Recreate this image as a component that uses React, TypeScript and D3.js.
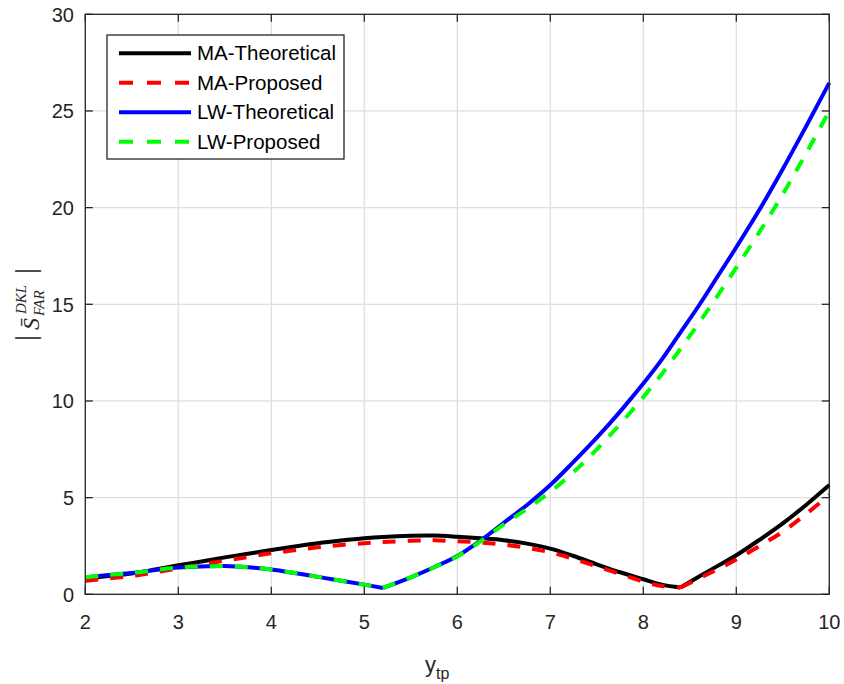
import React from "react";
import * as d3 from "d3";

const xs = [2, 2.25, 2.5, 2.75, 3, 3.25, 3.5, 3.75, 4, 4.25, 4.5, 4.75, 5, 5.2, 5.5, 5.75, 6, 6.25, 6.5, 6.75, 7, 7.25, 7.5, 7.75, 8, 8.2, 8.4, 8.6, 8.8, 9, 9.25, 9.5, 9.75, 10];

const maTheoretical = [0.81, 0.95, 1.08, 1.28, 1.5, 1.7, 1.91, 2.1, 2.29, 2.47, 2.64, 2.78, 2.9, 2.97, 3.03, 3.04, 2.98, 2.9, 2.8, 2.62, 2.36, 1.98, 1.55, 1.14, 0.78, 0.5, 0.35, 0.92, 1.47, 2.02, 2.82, 3.67, 4.62, 5.65];
const maProposed = [0.7, 0.82, 0.95, 1.14, 1.34, 1.54, 1.74, 1.93, 2.12, 2.28, 2.43, 2.55, 2.64, 2.7, 2.77, 2.79, 2.75, 2.68, 2.57, 2.4, 2.17, 1.83, 1.45, 1.05, 0.66, 0.43, 0.35, 0.82, 1.3, 1.8, 2.5, 3.24, 4.15, 5.14];
const lwTheoretical = [0.88, 1.0, 1.1, 1.25, 1.38, 1.44, 1.46, 1.4, 1.28, 1.1, 0.9, 0.7, 0.5, 0.33, 0.88, 1.4, 1.98, 2.78, 3.7, 4.62, 5.65, 6.85, 8.1, 9.45, 10.9, 12.15, 13.55, 14.95, 16.45, 17.95, 19.9, 22.0, 24.2, 26.45];
const lwProposed = [0.88, 1.0, 1.1, 1.25, 1.38, 1.44, 1.46, 1.4, 1.28, 1.1, 0.9, 0.7, 0.5, 0.33, 0.88, 1.4, 1.96, 2.74, 3.62, 4.42, 5.3, 6.32, 7.5, 8.8, 10.2, 11.4, 12.7, 14.05, 15.45, 16.9, 18.75, 20.7, 22.8, 25.0];

const xTicks = [2, 3, 4, 5, 6, 7, 8, 9, 10];
const yTicks = [0, 5, 10, 15, 20, 25, 30];

const seriesNames = ["MA-Theoretical", "MA-Proposed", "LW-Theoretical", "LW-Proposed"];
const seriesColors = ["#000000", "#ff0000", "#0000ff", "#00ff00"];
const seriesDashed = [false, true, false, true];
const seriesValues = [maTheoretical, maProposed, lwTheoretical, lwProposed];
// x position of the sharp minimum (kink) in each series
const seriesKinkX = [8.4, 8.4, 5.2, 5.2];

const AX = "#262626";
const SANS = "'Liberation Sans', Arial, Helvetica, sans-serif";
const SERIF = "'Liberation Serif', 'Times New Roman', serif";

export default function App() {
  const L = 85.3, R = 829.3, T = 14.3, B = 594.3;
  const x = d3.scaleLinear().domain([2, 10]).range([L, R]);
  const y = d3.scaleLinear().domain([0, 30]).range([B, T]);
  const line = d3
    .line<[number, number]>()
    .x((d) => x(d[0]))
    .y((d) => y(d[1]))
    .curve(d3.curveCatmullRom.alpha(0.5));
  const pathFor = (vals: number[], kx: number) => {
    const pts: [number, number][] = xs.map((xv, i) => [xv, vals[i]]);
    const k = xs.indexOf(kx);
    return (line(pts.slice(0, k + 1)) || "") + (line(pts.slice(k)) || "");
  };
  const tk = 7.5;
  const fs = 20;
  const dash = "13 12";

  return (
    <svg width={844} height={684} style={{ position: "absolute", left: 0, top: 0, background: "#fff" }}>
      <rect x={0} y={0} width={844} height={684} fill="#fff" />
      {xTicks.map((t) => (
        <line key={"gx" + t} x1={x(t)} x2={x(t)} y1={T} y2={B} stroke="#dfdfdf" strokeWidth={1.3} />
      ))}
      {yTicks.map((t) => (
        <line key={"gy" + t} x1={L} x2={R} y1={y(t)} y2={y(t)} stroke="#dfdfdf" strokeWidth={1.3} />
      ))}
      {seriesValues.map((vals, i) => (
        <path
          key={"s" + i}
          d={pathFor(vals, seriesKinkX[i])}
          fill="none"
          stroke={seriesColors[i]}
          strokeWidth={4}
          strokeDasharray={seriesDashed[i] ? dash : undefined}
          strokeLinejoin="round"
        />
      ))}
      <rect x={L} y={T} width={R - L} height={B - T} fill="none" stroke={AX} strokeWidth={1.3} />
      {xTicks.map((t) => (
        <g key={"tx" + t}>
          <line x1={x(t)} x2={x(t)} y1={B} y2={B - tk} stroke={AX} strokeWidth={1.3} />
          <line x1={x(t)} x2={x(t)} y1={T} y2={T + tk} stroke={AX} strokeWidth={1.3} />
          <text x={x(t)} y={629} textAnchor="middle" fontFamily={SANS} fontSize={fs} fill={AX}>
            {t}
          </text>
        </g>
      ))}
      {yTicks.map((t) => (
        <g key={"ty" + t}>
          <line x1={L} x2={L + tk} y1={y(t)} y2={y(t)} stroke={AX} strokeWidth={1.3} />
          <line x1={R} x2={R - tk} y1={y(t)} y2={y(t)} stroke={AX} strokeWidth={1.3} />
          <text x={74} y={y(t) + 0.36 * fs} textAnchor="end" fontFamily={SANS} fontSize={fs} fill={AX}>
            {t}
          </text>
        </g>
      ))}
      <text x={425} y={672} fontFamily={SANS} fontSize={22} fill={AX}>
        y
        <tspan fontSize={16} dy={7}>tp</tspan>
      </text>
      <g transform="translate(27,304) rotate(-90)" fill={AX}>
        <text x={-37} y={8} fontFamily={SERIF} fontSize={30}>|</text>
        <text x={-26} y={12} fontFamily={SERIF} fontStyle="italic" fontSize={24}>S̄</text>
        <text x={-10} y={-1} fontFamily={SERIF} fontStyle="italic" fontSize={15}>DKL</text>
        <text x={-12} y={17} fontFamily={SERIF} fontStyle="italic" fontSize={15}>FAR</text>
        <text x={30} y={8} fontFamily={SERIF} fontSize={30}>|</text>
      </g>
      <rect x={107} y={35} width={237} height={124} fill="#fff" stroke={AX} strokeWidth={1.3} />
      {seriesNames.map((n, i) => {
        const cy = 53.3 + i * 29.5;
        return (
          <g key={"lg" + i}>
            <line
              x1={119}
              x2={191}
              y1={cy}
              y2={cy}
              stroke={seriesColors[i]}
              strokeWidth={4}
              strokeDasharray={seriesDashed[i] ? "14 14" : undefined}
            />
            <text x={197} y={cy + 7} fontFamily={SANS} fontSize={20.5} fill="#000">
              {n}
            </text>
          </g>
        );
      })}
    </svg>
  );
}
